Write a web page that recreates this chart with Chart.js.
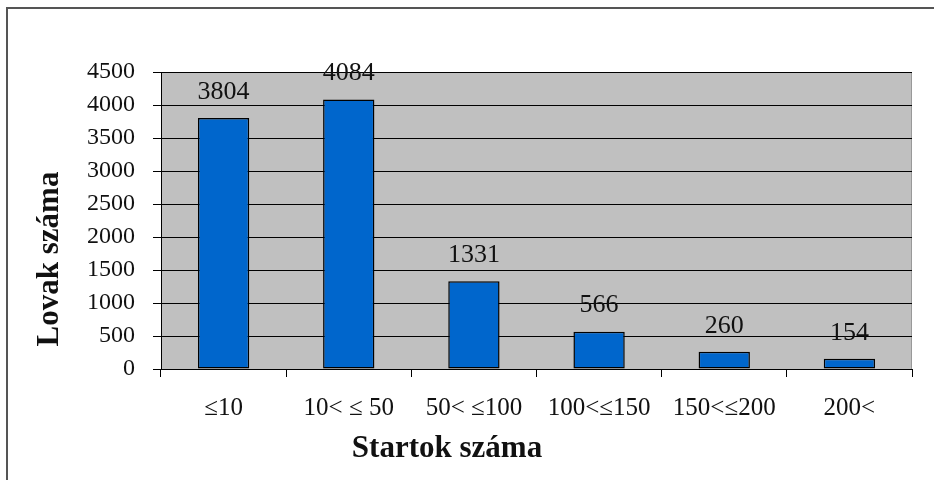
<!DOCTYPE html>
<html>
<head>
<meta charset="utf-8">
<script src="https://cdn.jsdelivr.net/npm/chart.js@4/dist/chart.umd.min.js"></script>
<style>
  body { margin: 0; background: #fff; overflow: hidden; }
  #wrap { position: relative; width: 934px; height: 480px; }
  #frame { position: absolute; left: 6px; top: 7px; width: 940px; height: 490px;
           border-left: 2px solid #555; border-top: 2px solid #555; }
  canvas { position: absolute; left: 0; top: 0; }
</style>
</head>
<body>
<div id="wrap">
  <div id="frame"></div>
  <canvas id="chart" width="934" height="480"></canvas>
</div>
<script>
var categories = ['\u226410', '10< \u2264 50', '50< \u2264100', '100<\u2264150', '150<\u2264200', '200<'],
    horses = [3804, 4084, 1331, 566, 260, 154],
    yTicks = [0, 500, 1000, 1500, 2000, 2500, 3000, 3500, 4000, 4500];

var serif = "'Liberation Serif', 'Times New Roman', serif";

// value labels above the bars, plus the two axis titles
var labelsPlugin = {
    id: 'labels',
    afterDatasetsDraw: function (chart) {
        var ctx = chart.ctx,
            area = chart.chartArea,
            meta = chart.getDatasetMeta(0);
        ctx.save();
        ctx.fillStyle = '#111';
        ctx.font = '26px ' + serif;
        ctx.textAlign = 'center';
        ctx.textBaseline = 'middle';
        meta.data.forEach(function (bar, i) {
            ctx.fillText(horses[i], bar.x, bar.y - 26);
        });

        ctx.font = 'bold 31px ' + serif;
        ctx.fillText('Startok száma', area.left + 286, area.bottom + 80);

        ctx.translate(50, area.top + 187);
        ctx.rotate(-Math.PI / 2);
        ctx.fillText('Lovak száma', 0, 0);
        ctx.restore();
    }
};

var plotBg = {
    id: 'plotBg',
    beforeDraw: function (chart) {
        var ctx = chart.ctx, a = chart.chartArea;
        ctx.save();
        ctx.fillStyle = '#c0c0c0';
        ctx.fillRect(a.left, a.top, a.right - a.left, a.bottom - a.top);
        ctx.strokeStyle = '#999';
        ctx.lineWidth = 1;
        ctx.strokeRect(a.left + 0.5, a.top + 0.5, a.right - a.left - 1, a.bottom - a.top);
        ctx.restore();
    }
};

new Chart(document.getElementById('chart'), {
    type: 'bar',
    data: {
        labels: categories,
        datasets: [{
            data: horses,
            backgroundColor: '#0066cc',
            borderColor: '#000',
            borderWidth: 1.5,
            borderSkipped: false,
            categoryPercentage: 0.41,
            barPercentage: 1
        }]
    },
    options: {
        responsive: false,
        animation: false,
        layout: { padding: { top: 72, right: 22, left: 0, bottom: 0 } },
        plugins: { legend: { display: false }, tooltip: { enabled: false } },
        scales: {
            x: {
                grid: { display: true, drawOnChartArea: false, color: '#000', tickLength: 8, offset: true },
                border: { color: '#000', width: 1 },
                ticks: { color: '#111', font: { family: serif, size: 25 }, padding: 16, maxRotation: 0 },
                afterFit: function (scale) { scale.height = 111; }
            },
            y: {
                min: 0,
                max: 4500,
                afterBuildTicks: function (scale) {
                    scale.ticks = yTicks.map(function (v) { return { value: v }; });
                },
                grid: { color: '#000', tickLength: 8 },
                border: { color: '#000', width: 1 },
                ticks: {
                    color: '#111', font: { family: serif, size: 24 }, padding: 18,
                    callback: function (v) { return String(v); }
                },
                afterFit: function (scale) { scale.width = 161; }
            }
        }
    },
    plugins: [plotBg, labelsPlugin]
});
</script>
</body>
</html>
